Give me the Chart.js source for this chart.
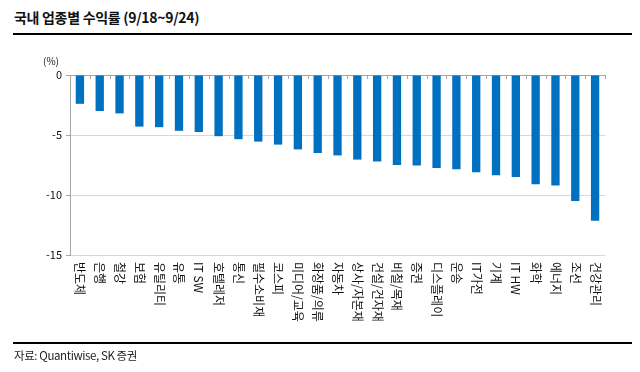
<!DOCTYPE html>
<html>
<head>
<meta charset="utf-8">
<script src="https://cdn.jsdelivr.net/npm/chart.js@4.4.1/dist/chart.umd.min.js"></script>
<style>
  html, body { margin: 0; padding: 0; background: #fff; }
  #wrap { position: relative; width: 640px; height: 372px; overflow: hidden; font-family: "Noto Sans CJK KR", "Noto Sans", sans-serif; }
  #title { position: absolute; left: 14px; top: 7px; font-size: 14px; font-weight: bold; color: #111; letter-spacing: -0.3px; }
  #topline { position: absolute; left: 13px; top: 33px; width: 619px; height: 2px; background: #000; }
  #botline { position: absolute; left: 13px; top: 342px; width: 619px; height: 2px; background: #000; }
  #source { position: absolute; left: 14px; top: 347px; font-size: 11.5px; color: #222; letter-spacing: -0.4px; }
  #unit { position: absolute; left: 43px; top: 53px; font-size: 10px; color: #222; }
  canvas { position: absolute; left: 0; top: 0; }
</style>
</head>
<body>
<div id="wrap">
  <div id="title">국내 업종별 수익률 (9/18~9/24)</div>
  <div id="topline"></div>
  <canvas id="c" width="640" height="372"></canvas>
  <div id="unit">(%)</div>
  <div id="botline"></div>
  <div id="source">자료: Quantiwise, SK 증권</div>
</div>
<script>
const categories = ["반도체","은행","철강","보험","유틸리티","유통","IT SW","호텔레저","통신","필수소비재","코스피","미디어/교육","화장품/의류","자동차","상사/자본재","건설/건자재","비철/목재","증권","디스플레이","운송","IT가전","기계","IT HW","화학","에너지","조선","건강관리"];
const returns = [-2.4,-3.0,-3.2,-4.3,-4.35,-4.65,-4.75,-5.1,-5.35,-5.55,-5.8,-6.2,-6.5,-6.7,-7.05,-7.2,-7.5,-7.55,-7.75,-7.85,-8.1,-8.35,-8.5,-9.1,-9.2,-10.5,-12.15];
const yTicks = [0, -5, -10, -15];

const labelPlugin = {
  id: 'rotLabels',
  afterDraw(chart) {
    const ctx = chart.ctx;
    const xs = chart.scales.x, ys = chart.scales.y;
    const area = chart.chartArea;
    ctx.save();
    // category tick marks on the zero line
    const y0 = ys.getPixelForValue(0);
    ctx.strokeStyle = '#a6a6a6';
    ctx.lineWidth = 1;
    const half = (xs.getPixelForValue(1) - xs.getPixelForValue(0)) / 2;
    for (let i = 0; i <= categories.length; i++) {
      const x = Math.round(xs.getPixelForValue(i) - half) + 0.5;
      ctx.beginPath(); ctx.moveTo(x, y0); ctx.lineTo(x, y0 + 4); ctx.stroke();
    }
    // rotated labels (read top to bottom)
    ctx.fillStyle = '#111';
    ctx.font = '12px "Noto Sans CJK KR", sans-serif';
    ctx.textAlign = 'left';
    ctx.textBaseline = 'middle';
    categories.forEach((lab, i) => {
      const x = xs.getPixelForTick(i);
      ctx.save();
      ctx.translate(x, area.bottom + 7);
      ctx.rotate(Math.PI / 2);
      ctx.fillText(lab, 0, 0);
      ctx.restore();
    });
    ctx.restore();
  }
};

new Chart(document.getElementById('c'), {
  type: 'bar',
  data: {
    labels: categories,
    datasets: [{
      data: returns,
      backgroundColor: '#0070c0',
      borderWidth: 0,
      barPercentage: 0.42,
      categoryPercentage: 1.0
    }]
  },
  options: {
    responsive: false,
    animation: false,
    devicePixelRatio: 1,
    layout: { padding: { left: 0, right: 35, top: 75, bottom: 0 } },
    plugins: { legend: { display: false }, tooltip: { enabled: false }, title: { display: false } },
    scales: {
      x: {
        position: 'bottom',
        ticks: { display: false },
        grid: { display: false },
        border: { display: false },
        afterFit(scale) { scale.height = 117; }
      },
      y: {
        min: -15, max: 0,
        afterBuildTicks(scale) { scale.ticks = yTicks.map(v => ({ value: v })); },
        ticks: {
          color: '#111',
          font: { size: 11, family: '"Noto Sans CJK KR", sans-serif' },
          padding: 4
        },
        grid: {
          color: (c) => c.tick && c.tick.value === 0 ? '#a6a6a6' : '#d9d9d9',
          tickColor: '#a6a6a6',
          tickLength: 4,
          lineWidth: 1
        },
        border: { display: true, color: '#a6a6a6' },
        afterFit(scale) { scale.width = 70; }
      }
    }
  },
  plugins: [labelPlugin]
});
</script>
</body>
</html>
